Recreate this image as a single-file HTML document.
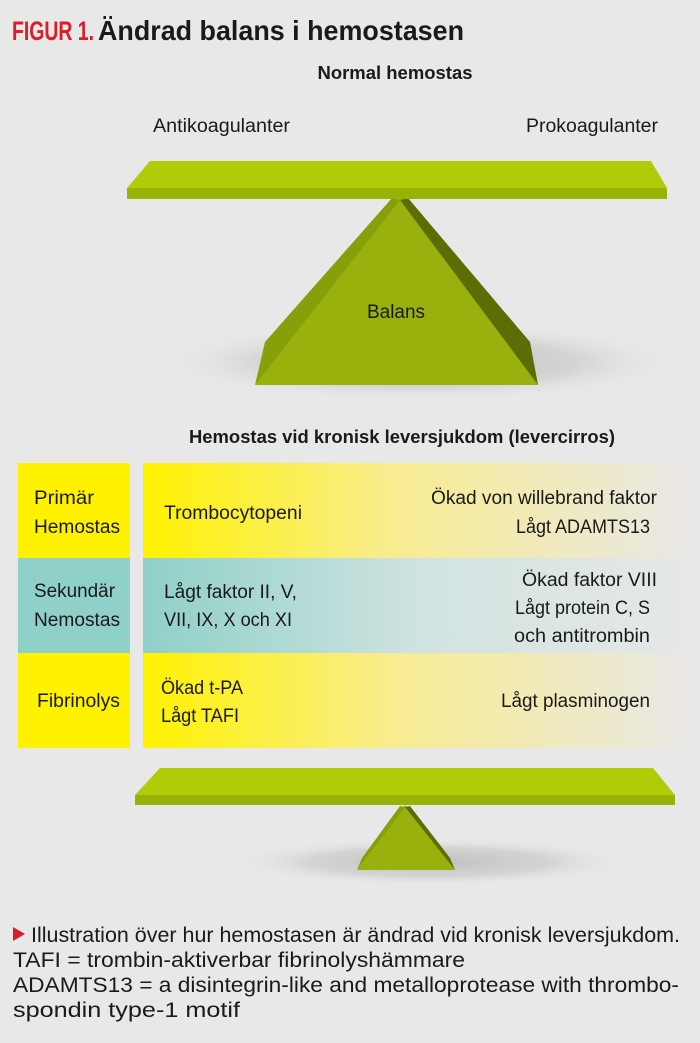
<!DOCTYPE html>
<html><head><meta charset="utf-8"><style>
html,body{margin:0;padding:0;background:#e8e8e8;}
svg{display:block;font-family:"Liberation Sans",sans-serif;}
</style></head><body>
<svg width="700" height="1043" viewBox="0 0 700 1043" xmlns="http://www.w3.org/2000/svg">
<defs>
<linearGradient id="gy" x1="0" x2="1"><stop offset="0" stop-color="#fff200"/><stop offset="0.45" stop-color="#f8ec90"/><stop offset="1" stop-color="#e8e8e8"/></linearGradient>
<linearGradient id="gt" x1="0" x2="1"><stop offset="0" stop-color="#8fd0c8"/><stop offset="0.5" stop-color="#d0e3e0"/><stop offset="1" stop-color="#e8e8e8"/></linearGradient>
<radialGradient id="sh"><stop offset="0" stop-color="#c0c0c0"/><stop offset="0.6" stop-color="#d4d4d4"/><stop offset="1" stop-color="#e8e8e8" stop-opacity="0"/></radialGradient>
</defs>
<rect width="700" height="1043" fill="#e8e8e8"/>
<text x="12" y="40" font-size="27" font-weight="bold" fill="#d81e2a" textLength="82" lengthAdjust="spacingAndGlyphs">FIGUR 1.</text>
<text x="98" y="40" font-size="28" font-weight="bold" fill="#1a1a1a" textLength="366" lengthAdjust="spacingAndGlyphs">Ändrad balans i hemostasen</text>
<text x="395" y="79" font-size="18" font-weight="bold" text-anchor="middle" fill="#1a1a1a" textLength="155" lengthAdjust="spacingAndGlyphs">Normal hemostas</text>
<text x="153" y="132" font-size="19" fill="#1a1a1a" textLength="137" lengthAdjust="spacingAndGlyphs">Antikoagulanter</text>
<text x="526" y="132" font-size="19" fill="#1a1a1a" textLength="132" lengthAdjust="spacingAndGlyphs">Prokoagulanter</text>
<!-- top seesaw -->
<ellipse cx="420" cy="362" rx="260" ry="40" fill="url(#sh)"/>
<polygon points="400,196 255,385 538,385" fill="#99b00d"/>
<polygon points="392,198 265,342 255,385 400,200" fill="#86a00a"/>
<polygon points="408,198 530,342 538,385 400,200" fill="#5a6e05"/>
<polygon points="150,161 651,161 667,188 127,188" fill="#b1cb09"/>
<rect x="127" y="188" width="540" height="11" fill="#98b208"/>
<text x="396" y="318" font-size="19" text-anchor="middle" fill="#1a1a1a" textLength="58" lengthAdjust="spacingAndGlyphs">Balans</text>
<text x="402" y="443" font-size="18" font-weight="bold" text-anchor="middle" fill="#1a1a1a" textLength="426" lengthAdjust="spacingAndGlyphs">Hemostas vid kronisk leversjukdom (levercirros)</text>
<!-- table -->
<rect x="18" y="463" width="112" height="95" fill="#fff200"/>
<rect x="18" y="558" width="112" height="95" fill="#8fd0c8"/>
<rect x="18" y="653" width="112" height="95" fill="#fff200"/>
<rect x="143" y="463" width="557" height="95" fill="url(#gy)"/>
<rect x="143" y="558" width="557" height="95" fill="url(#gt)"/>
<rect x="143" y="653" width="557" height="95" fill="url(#gy)"/>
<g font-size="19" fill="#1a1a1a" lengthAdjust="spacingAndGlyphs">
<text x="34" y="504" textLength="60" lengthAdjust="spacingAndGlyphs">Primär</text><text x="34" y="533" textLength="86" lengthAdjust="spacingAndGlyphs">Hemostas</text>
<text x="34" y="597" textLength="81" lengthAdjust="spacingAndGlyphs">Sekundär</text><text x="34" y="626" textLength="86" lengthAdjust="spacingAndGlyphs">Nemostas</text>
<text x="37" y="707" textLength="83" lengthAdjust="spacingAndGlyphs">Fibrinolys</text>
<text x="164" y="519" textLength="138" lengthAdjust="spacingAndGlyphs">Trombocytopeni</text>
<text x="431" y="504" textLength="226" lengthAdjust="spacingAndGlyphs">Ökad von willebrand faktor</text>
<text x="516" y="533" textLength="134" lengthAdjust="spacingAndGlyphs">Lågt ADAMTS13</text>
<text x="164" y="598" textLength="133" lengthAdjust="spacingAndGlyphs">Lågt faktor II, V,</text>
<text x="164" y="626" textLength="128" lengthAdjust="spacingAndGlyphs">VII, IX, X och XI</text>
<text x="522" y="586" textLength="135" lengthAdjust="spacingAndGlyphs">Ökad faktor VIII</text>
<text x="515" y="614" textLength="135" lengthAdjust="spacingAndGlyphs">Lågt protein C, S</text>
<text x="514" y="642" textLength="136" lengthAdjust="spacingAndGlyphs">och antitrombin</text>
<text x="161" y="694" textLength="82" lengthAdjust="spacingAndGlyphs">Ökad t-PA</text>
<text x="161" y="722" textLength="78" lengthAdjust="spacingAndGlyphs">Lågt TAFI</text>
<text x="501" y="707" textLength="149" lengthAdjust="spacingAndGlyphs">Lågt plasminogen</text>
</g>
<!-- bottom seesaw -->
<ellipse cx="430" cy="862" rx="200" ry="24" fill="url(#sh)"/>
<polygon points="405,805 357,870 455,870" fill="#99b00d"/>
<polygon points="400,806 362,858 357,870 405,807" fill="#86a00a"/>
<polygon points="410,806 450,858 455,870 405,807" fill="#5a6e05"/>
<polygon points="160,768 653,768 675,795 135,795" fill="#b1cb09"/>
<rect x="135" y="795" width="540" height="10" fill="#98b208"/>
<!-- caption -->
<polygon points="13,927 13,941 25,934" fill="#d81e2a"/>
<g font-size="21" fill="#1a1a1a">
<text x="31" y="942" textLength="649" lengthAdjust="spacingAndGlyphs">Illustration över hur hemostasen är ändrad vid kronisk leversjukdom.</text>
<text x="13" y="967" textLength="452" lengthAdjust="spacingAndGlyphs">TAFI = trombin-aktiverbar fibrinolyshämmare</text>
<text x="13" y="992" textLength="666" lengthAdjust="spacingAndGlyphs">ADAMTS13 = a disintegrin-like and metalloprotease with thrombo-</text>
<text x="13" y="1017" textLength="227" lengthAdjust="spacingAndGlyphs">spondin type-1 motif</text>
</g>
</svg>
</body></html>
